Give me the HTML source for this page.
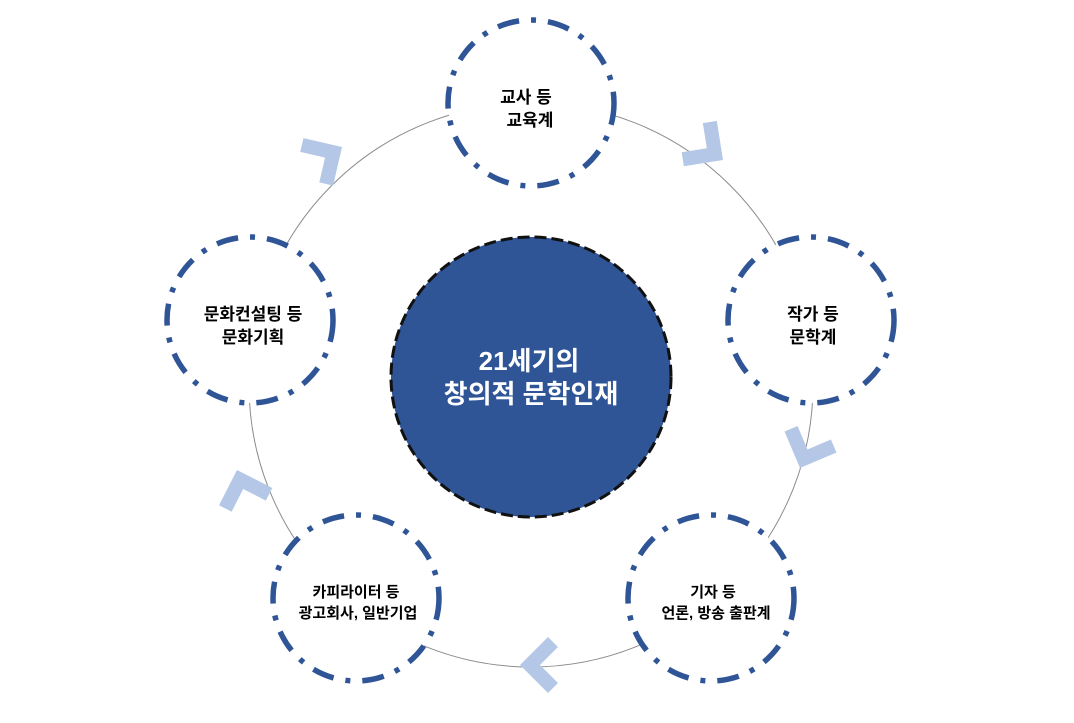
<!DOCTYPE html>
<html><head><meta charset="utf-8"><style>
html,body{margin:0;padding:0;background:#fff;}
svg text{font-family:"Liberation Sans","Noto Sans CJK KR",sans-serif;font-weight:bold;}
</style></head><body>
<svg width="1074" height="718" viewBox="0 0 1074 718" xmlns="http://www.w3.org/2000/svg">
<defs><polygon id="chv" points="-38,-18 -28,-28 0,0 -28,28 -38,18 -20,0"/></defs>
<circle cx="531" cy="385" r="282" fill="none" stroke="#8c8c8c" stroke-width="1"/>
<g fill="#b4c7e7">
<use href="#chv" transform="translate(723,160) rotate(36)"/>
<use href="#chv" transform="translate(800,468) rotate(112)"/>
<use href="#chv" transform="translate(520,665) rotate(180)"/>
<use href="#chv" transform="translate(237,470) rotate(252)"/>
<use href="#chv" transform="translate(342,147) rotate(-32)"/>
</g>
<g fill="#fff" stroke="#2f5597" stroke-width="5.5" stroke-dasharray="22 12 5 12">
<circle cx="531" cy="103" r="83"/>
<circle cx="811" cy="320" r="83"/>
<circle cx="250" cy="320" r="83"/>
<circle cx="356" cy="598" r="83"/>
<circle cx="711" cy="598" r="83"/>
</g>
<circle cx="531" cy="377" r="140" fill="#2f5597" stroke="#111" stroke-width="3" stroke-dasharray="12 5"/>
<g font-size="17" fill="#000" text-anchor="middle">
<text x="526" y="103">교사 등</text><text x="530" y="126">교육계</text>
<text x="813" y="320">작가 등</text><text x="813" y="343">문학계</text>
<text x="253" y="320">문화컨설팅 등</text><text x="253" y="343">문화기획</text>
<text x="356" y="597" font-size="15">카피라이터 등</text><text x="358" y="618" font-size="15">광고회사, 일반기업</text>
<text x="713" y="597" font-size="15">기자 등</text><text x="716" y="618" font-size="15">언론, 방송 출판계</text>
</g>
<g font-size="26" fill="#fff" text-anchor="middle">
<text x="529" y="370">21세기의</text><text x="531" y="403">창의적 문학인재</text>
</g>
</svg>
</body></html>
